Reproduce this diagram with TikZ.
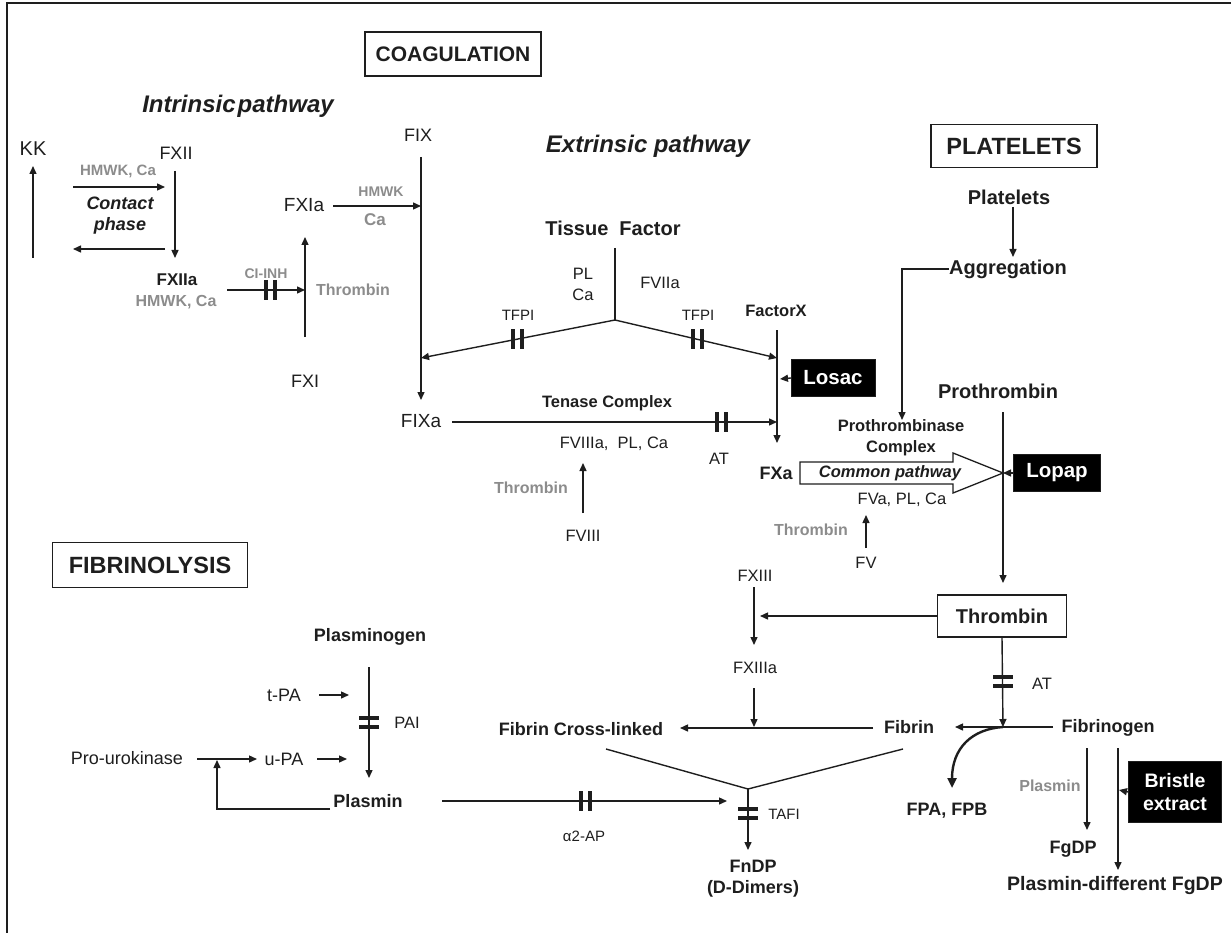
\documentclass[tikz,border=0pt]{standalone}
\usepackage{fontspec}
\setmainfont{Liberation Sans}
\usetikzlibrary{arrows.meta}
\definecolor{txt}{HTML}{1E1E1E}
\definecolor{gry}{HTML}{8C8C8C}
\newcommand\fsz[2]{\fontsize{#1}{#2}\selectfont}
\newcommand\inhV[2]{\draw[inh] (#1-4.5,#2-10) -- (#1-4.5,#2+10) (#1+4.5,#2-10) -- (#1+4.5,#2+10);}
\newcommand\inhH[2]{\draw[inh] (#1-10,#2-4.5) -- (#1+10,#2-4.5) (#1-10,#2+4.5) -- (#1+10,#2+4.5);}
\begin{document}
\begin{tikzpicture}[x=1pt,y=-1pt,
  every node/.style={inner sep=0pt, text=txt},
  lab/.style={font=\fsz{18}{21}},
  labm/.style={font=\fsz{16.5}{21}, align=center},
  labs/.style={font=\fsz{15}{18}},
  blab/.style={font=\fsz{18}{21}\bfseries, align=center},
  blabm/.style={font=\fsz{16.5}{21}\bfseries, align=center},
  blabl/.style={font=\fsz{20}{24}\bfseries},
  glab/.style={font=\fsz{16}{20}\bfseries, text=gry},
  head/.style={draw=txt, line width=1.3pt, font=\fsz{23.5}{27}\bfseries, minimum height=44pt},
  ital/.style={font=\fsz{24}{28}\bfseries\itshape, align=center},
  blk/.style={fill=black, draw=txt, text=white, font=\fsz{20.5}{23}\bfseries, align=center},
  ln/.style={draw=txt, line width=1.4pt},
  arr/.style={ln, -{Triangle[length=8pt,width=7pt]}},
  inh/.style={draw=txt, line width=4pt},
]
\useasboundingbox (0,0) rectangle (1231,933);
\draw[draw=txt, line width=1.2pt] (7,933) -- (7,3) -- (1231,3);

% headings
\node[head, minimum width=176pt, font=\fsz{21}{25}\bfseries] (coag) at (453,54) {COAGULATION};
\node[head, minimum width=166pt, minimum height=43pt] (plat) at (1014,146) {PLATELETS};
\node[head, minimum width=195pt, minimum height=45pt] (fibrinol) at (150,565) {FIBRINOLYSIS};
\node[ital] (intr) at (238,106) {Intrinsic\kern2pt pathway};
\node[ital] (extr) at (648,146) {Extrinsic pathway};

% intrinsic
\node[lab, font=\fsz{20}{23}] (kk) at (33,149) {KK};
\node[lab] (fxii) at (176,153) {FXII};
\node[glab, font=\fsz{15}{18}\bfseries] (hmwk1) at (118,171) {HMWK, Ca};
\node[font=\fsz{18}{21}\bfseries\itshape, align=center] (contact) at (120,216) {Contact\\phase};
\node[blab, font=\fsz{17}{20}\bfseries] (fxiia) at (177,280) {FXIIa};
\node[glab] (hmwk2) at (176,302) {HMWK, Ca};
\node[glab, font=\fsz{14}{17}\bfseries] (ciinh) at (266,274) {CI-INH};
\node[glab] (thr1) at (353,290) {Thrombin};
\node[lab, font=\fsz{19}{22}] (fxia) at (304,205) {FXIa};
\node[lab] (fxi) at (305,381) {FXI};
\node[glab, font=\fsz{14}{17}\bfseries] (hmwk3) at (381,192) {HMWK};
\node[glab, font=\fsz{17}{20}\bfseries] (ca3) at (375,220) {Ca};
\node[lab] (fix) at (418,135) {FIX};
\node[lab, font=\fsz{19}{22}] (fixa) at (421,421) {FIXa};

\coordinate (kk1) at (33,258); \coordinate (kk2) at (33,166);
\draw[arr] (kk1) -- (kk2);
\coordinate (cp1) at (73,187); \coordinate (cp2) at (165,187);
\draw[arr] (cp1) -- (cp2);
\coordinate (cp3) at (165,249); \coordinate (cp4) at (73,249);
\draw[arr] (cp3) -- (cp4);
\coordinate (x12a) at (175,171); \coordinate (x12b) at (175,258);
\draw[arr] (x12a) -- (x12b);
\coordinate (ci1) at (227,290); \coordinate (ci2) at (305,290);
\draw[arr] (ci1) -- (ci2);
\inhV{270}{290}
\coordinate (xi1) at (305,337); \coordinate (xi2) at (305,237);
\draw[arr] (xi1) -- (xi2);
\coordinate (xia1) at (333,206); \coordinate (xia2) at (421,206);
\draw[arr] (xia1) -- (xia2);
\coordinate (ix1) at (421,157); \coordinate (ix2) at (421,400);
\draw[arr] (ix1) -- (ix2);

% extrinsic
\node[blabl] (tf) at (613,228) {Tissue\ \ Factor};
\node[labm] (plca) at (583,284) {PL\\Ca};
\node[labm] (fviia) at (660,283) {FVIIa};
\node[labs] (tfpi1) at (518,315) {TFPI};
\node[labs] (tfpi2) at (698,315) {TFPI};
\node[blabm] (factorx) at (776,311) {FactorX};
\node[blabm] (tenase) at (607,403) {Tenase Complex};
\node[labm] (fviiia) at (614,444) {FVIIIa,\ \ PL, Ca};
\node[labm] (at1) at (719,459) {AT};
\node[glab] (thr2) at (531,488) {Thrombin};
\node[labm] (fviii) at (583,536) {FVIII};
\node[blab] (fxa) at (776,473) {FXa};
\node[blk, minimum width=84pt, minimum height=37pt] (losac) at (833,378) {Losac};

\coordinate (tf1) at (615,248); \coordinate (jn) at (615,320);
\draw[ln] (tf1) -- (jn);
\coordinate (jl) at (421,358); \coordinate (jr) at (777,358);
\draw[arr] (jn) -- (jl);
\draw[arr] (jn) -- (jr);
\inhV{517}{339}
\inhV{697}{339}
\coordinate (fx1) at (777,330); \coordinate (fx2) at (777,443);
\draw[arr] (fx1) -- (fx2);
\coordinate (los) at (780,379);
\draw[arr] (losac.west) -- (los);
\coordinate (te1) at (452,422); \coordinate (te2) at (777,422);
\draw[arr] (te1) -- (te2);
\inhV{721}{422}
\coordinate (v81) at (583,513); \coordinate (v82) at (583,463);
\draw[arr] (v81) -- (v82);

% common pathway / platelets
\node[blabl] (plts) at (1009,197) {Platelets};
\node[blabl] (aggr) at (1008,269) {Aggregation};
\node[blabl] (proth) at (998,391) {Prothrombin};
\node[blabm] (pcx) at (901,438) {Prothrombinase\\Complex};
\node[labm] (fva) at (902,500) {FVa, PL, Ca};
\node[glab] (thr3) at (811,530) {Thrombin};
\node[labm] (fv) at (866,563) {FV};
\node[blk, minimum width=87pt, minimum height=37pt] (lopap) at (1057,473) {Lopap};

\coordinate (pl1) at (1013,207); \coordinate (pl2) at (1013,257);
\draw[arr] (pl1) -- (pl2);
\coordinate (pcin) at (902,420);
\draw[arr] (aggr.west) -| (pcin);
\draw[draw=txt, line width=1.3pt, fill=white] (800,462) -- (953,462) -- (953,453) -- (1003,473) -- (953,493) -- (953,484) -- (800,484) -- cycle;
\node[font=\fsz{16.5}{20}\bfseries\itshape] (common) at (890,473) {Common pathway};
\coordinate (pt1) at (1003,412); \coordinate (pt2) at (1003,583);
\draw[arr] (pt1) -- (pt2);
\coordinate (lop) at (1003,473);
\draw[arr] (lopap.west) -- (lop);
\coordinate (fv1) at (866,548); \coordinate (fv2) at (866,515);
\draw[arr] (fv1) -- (fv2);

% fibrin formation
\node[draw=txt, line width=1.3pt, minimum width=129pt, minimum height=42pt, font=\fsz{20}{24}\bfseries] (thrbox) at (1002,616) {Thrombin};
\node[labm] (fxiii) at (755,576) {FXIII};
\node[labm] (fxiiia) at (755,668) {FXIIIa};
\node[blab] (fcl) at (581,729) {Fibrin Cross-linked};
\node[blab] (fibrin) at (909,727) {Fibrin};
\node[blab] (fibrinogen) at (1108,728) {Fibrinogen};
\node[labm] (at2) at (1042,684) {AT};
\node[blab] (fpa) at (947,811) {FPA, FPB};
\node[glab] (plasg) at (1050,786) {Plasmin};
\node[blab] (fgdp) at (1073,849) {FgDP};
\node[blab, font=\fsz{19.5}{23}\bfseries] (pdf) at (1115,885) {Plasmin-different FgDP};
\node[blk, minimum width=93pt, minimum height=61pt, font=\fsz{19.5}{23}\bfseries] (bristle) at (1175,792) {Bristle\\extract};
\node[labs] (tafi) at (784,814) {TAFI};
\node[labs] (a2ap) at (584,836) {α2-AP};
\node[blab] (fndp) at (753,879) {FnDP\\(D-Dimers)};

\coordinate (th13) at (760,616);
\draw[arr] (thrbox.west) -- (th13);
\coordinate (x13a) at (754,587); \coordinate (x13b) at (754,645);
\draw[arr] (x13a) -- (x13b);
\coordinate (x13c) at (754,688); \coordinate (x13d) at (754,727);
\draw[arr] (x13c) -- (x13d);
\coordinate (fb1) at (873,728); \coordinate (fb2) at (680,728);
\draw[arr] (fb1) -- (fb2);
\coordinate (thj) at (1003,727);
\draw[arr] (thrbox.south) -- (thj);
\inhH{1003}{681}
\coordinate (fg1) at (1053,727); \coordinate (fg2) at (955,727);
\draw[arr] (fg1) -- (fg2);
\coordinate (fpt) at (952,788);
\draw[draw=txt, line width=2.4pt, -{Triangle[length=10pt,width=9pt]}] (thj) .. controls (972,729) and (952,748) .. (fpt);
\coordinate (pg1) at (1087,748); \coordinate (pg2) at (1087,830);
\draw[arr] (pg1) -- (pg2);
\coordinate (bg1) at (1118,748); \coordinate (bg2) at (1118,870);
\draw[arr] (bg1) -- (bg2);
\coordinate (bgt) at (1119,790);
\draw[arr] (bristle.west) -- (bgt);
\coordinate (vl) at (606,749); \coordinate (vv) at (748,789); \coordinate (vr) at (903,749);
\draw[ln] (vl) -- (vv) -- (vr);
\coordinate (vd) at (748,850);
\draw[arr] (vv) -- (vd);
\inhH{748}{813}

% fibrinolysis
\node[blab] (plgn) at (370,637) {Plasminogen};
\node[lab] (tpa) at (284,695) {t-PA};
\node[labm] (pai) at (407,723) {PAI};
\node[lab] (prouk) at (127,758) {Pro-urokinase};
\node[lab] (upa) at (284,759) {u-PA};
\node[blab] (plasmin) at (368,801) {Plasmin};

\coordinate (pn1) at (369,667); \coordinate (pn2) at (369,778);
\draw[arr] (pn1) -- (pn2);
\inhH{369}{722}
\coordinate (tp1) at (319,695); \coordinate (tp2) at (349,695);
\draw[arr] (tp1) -- (tp2);
\coordinate (pu1) at (197,759); \coordinate (pu2) at (257,759);
\draw[arr] (pu1) -- (pu2);
\coordinate (up1) at (317,759); \coordinate (up2) at (347,759);
\draw[arr] (up1) -- (up2);
\coordinate (fbk1) at (330,809); \coordinate (fbk2) at (217,760);
\draw[arr] (fbk1) -| (fbk2);
\coordinate (pm1) at (442,801); \coordinate (pm2) at (727,801);
\draw[arr] (pm1) -- (pm2);
\inhV{585}{801}
\end{tikzpicture}
\end{document}
